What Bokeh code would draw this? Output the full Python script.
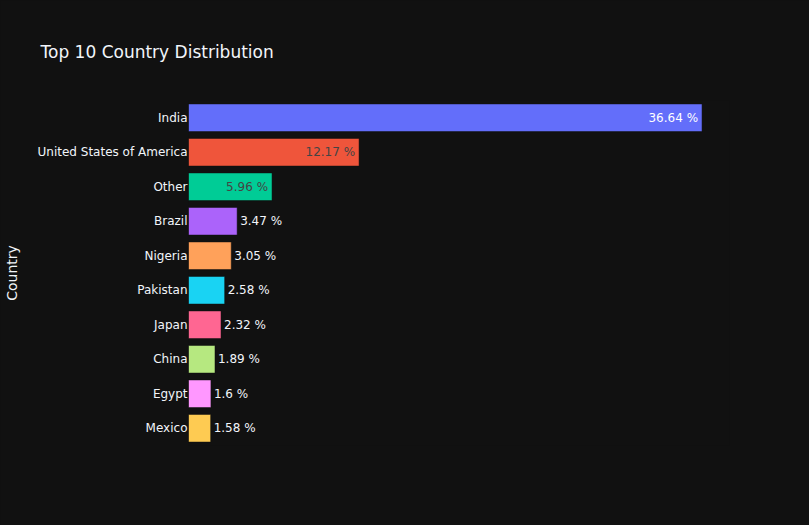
from bokeh.plotting import figure
from bokeh.models import ColumnDataSource, Range1d, FactorRange
from bokeh.core.properties import value
from bokeh.embed import file_html
from bokeh.resources import INLINE

countries = ["India", "United States of America", "Other", "Brazil", "Nigeria",
             "Pakistan", "Japan", "China", "Egypt", "Mexico"]
shares = [36.64, 12.17, 5.96, 3.47, 3.05, 2.58, 2.32, 1.89, 1.6, 1.58]
colors = ["#636efa", "#EF553B", "#00cc96", "#ab63fa", "#FFA15A",
          "#19d3f3", "#FF6692", "#B6E880", "#FF97FF", "#FECB52"]
labels = [f"{v} %" for v in shares]
title_text = "Top 10 Country Distribution"

FONT = "DejaVu Sans"
BG = "#111111"
W, H = 809, 525
L, R, T, B = 188, 80, 100, 80
x_max = 38.6
px_per_unit = (W - L - R) / x_max


def is_light(c):
    c = c.lstrip("#")
    r, g, b = int(c[0:2], 16), int(c[2:4], 16), int(c[4:6], 16)
    return (r * 299 + g * 587 + b * 114) / 1000 >= 128


aligns, offsets, tcolors = [], [], []
for v, lab, c in zip(shares, labels, colors):
    text_px = len(lab) * 7.3
    if v * px_per_unit > text_px + 8:
        aligns.append("right")
        offsets.append(-4)
        tcolors.append("#444444" if is_light(c) else "#ffffff")
    else:
        aligns.append("left")
        offsets.append(3)
        tcolors.append("#f2f5fa")

src = ColumnDataSource(dict(country=countries, share=shares, color=colors,
                            label=labels, align=aligns, xoff=offsets, tcolor=tcolors))

p = figure(width=W, height=H, output_backend="svg", toolbar_location=None,
           x_range=Range1d(0, x_max), y_range=FactorRange(*reversed(countries)),
           min_border_left=L, min_border_right=R, min_border_top=T, min_border_bottom=B)

p.styles = {"background-color": BG}
p.background_fill_color = BG
p.border_fill_color = BG
p.outline_line_color = None

p.hbar(y="country", right="share", left=0, height=0.8, source=src,
       fill_color="color", line_color=BG, line_width=0.5)

p.text(x="share", y="country", text="label", source=src, text_align="align",
       x_offset="xoff", text_baseline="middle", text_color="tcolor",
       text_font=value(FONT), text_font_size="12px")

p.xaxis.visible = False
p.xgrid.visible = False
p.ygrid.visible = False

ax = p.yaxis[0]
ax.axis_line_color = None
ax.major_tick_line_color = None
ax.minor_tick_line_color = None
ax.major_tick_out = 0
ax.major_label_standoff = 1
ax.major_label_text_font = FONT
ax.major_label_text_font_size = "12px"
ax.major_label_text_color = "#f2f5fa"
ax.axis_label = "Country"
ax.axis_label_text_font = FONT
ax.axis_label_text_font_size = "14px"
ax.axis_label_text_font_style = "normal"
ax.axis_label_text_color = "#f2f5fa"
ax.axis_label_standoff = 15

p.title.text = title_text
p.title.text_font = FONT
p.title.text_font_size = "17px"
p.title.text_font_style = "normal"
p.title.text_color = "#f2f5fa"
p.title.align = "left"
p.title.offset = -148
p.title.standoff = 77

open("out.html", "w").write(file_html(p, INLINE))
